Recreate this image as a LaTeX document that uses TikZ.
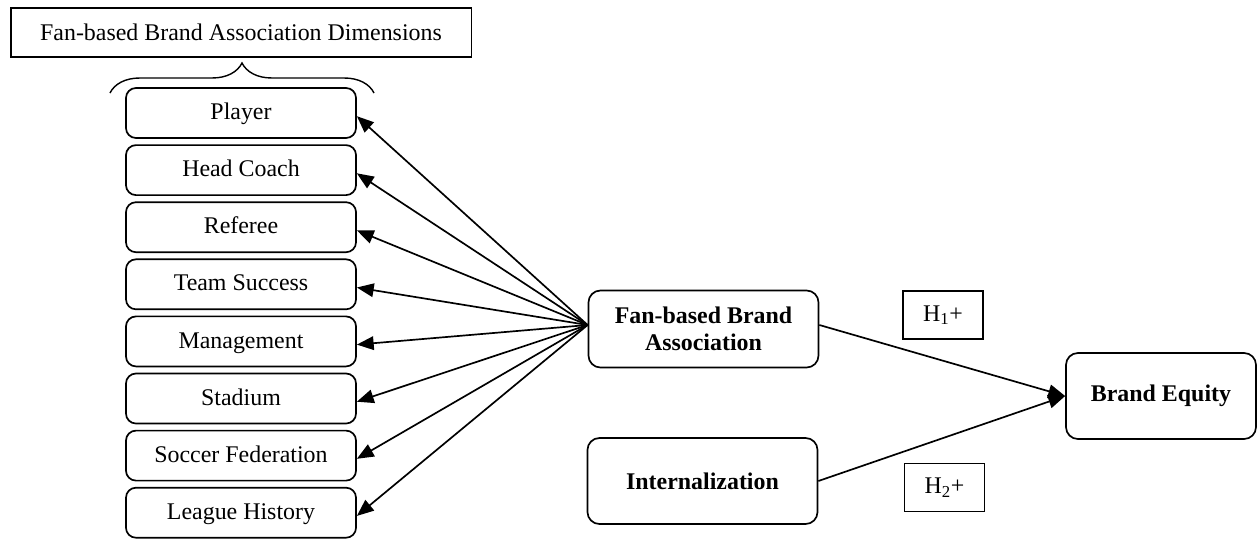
\documentclass[tikz,border=0pt]{standalone}
\usepackage{fontspec}
\setmainfont{Liberation Serif}
\usetikzlibrary{arrows.meta, positioning, decorations.pathreplacing}

\begin{document}
\begin{tikzpicture}[
    x=0.025cm, y=-0.025cm,
    node distance=0.135cm,
    every node/.style={font=\fontsize{17}{19.5}\selectfont},
    dim/.style={draw, line width=1.2pt, rounded corners=0.25cm, minimum width=5.75cm, minimum height=1.25cm, inner sep=0pt, text height=1.05em, text depth=0.1em},
    construct/.style={draw, line width=1.2pt, rounded corners=0.3cm, minimum width=5.75cm, align=center, font=\fontsize{17}{19.5}\selectfont\bfseries},
    hyp/.style={draw, line width=0.8pt, minimum width=2cm, minimum height=1.2cm},
    arrow/.style={line width=1.2pt, -{Triangle[length=0.42cm, width=0.34cm]}},
]
\useasboundingbox (0,0) rectangle (1257,539);

% Title and brace
\node[draw, line width=0.8pt, minimum width=11.5cm, minimum height=1.225cm] (title) at (241,32.5) {Fan-based Brand Association Dimensions};
\draw[line width=1pt, decorate, decoration={brace, amplitude=0.75cm}] (110,93) -- (374,93);

% Dimensions
\node[dim] (player) at (241,113) {Player};
\node[dim, below=of player] (coach) {Head Coach};
\node[dim, below=of coach] (referee) {Referee};
\node[dim, below=of referee] (success) {Team Success};
\node[dim, below=of success] (management) {Management};
\node[dim, below=of management] (stadium) {Stadium};
\node[dim, below=of stadium] (federation) {Soccer Federation};
\node[dim, below=of federation] (history) {League History};

% Constructs
\node[construct, minimum height=1.925cm] (fba) at (703.5,329) {Fan-based Brand\\Association};
\node[construct, minimum height=2.15cm] (intern) at (702.5,481) {Internalization};
\node[construct, minimum width=4.75cm, minimum height=2.15cm] (equity) at (1161,396) {Brand Equity};

% Hypothesis labels
\node[hyp] (h1) at (943,315) {H\textsubscript{1}+};
\node[hyp] (h2) at (944.5,487.5) {H\textsubscript{2}+};

% Arrows
\foreach \d in {player, coach, referee, success, management, stadium, federation, history}
    \draw[arrow] ([yshift=0.1cm]fba.west) -- ([yshift=-0.08cm]\d.east);
\draw[arrow] ([yshift=0.1cm]fba.east) -- (equity.west);
\draw[arrow] (intern.east) -- (equity.west);

\end{tikzpicture}
\end{document}
